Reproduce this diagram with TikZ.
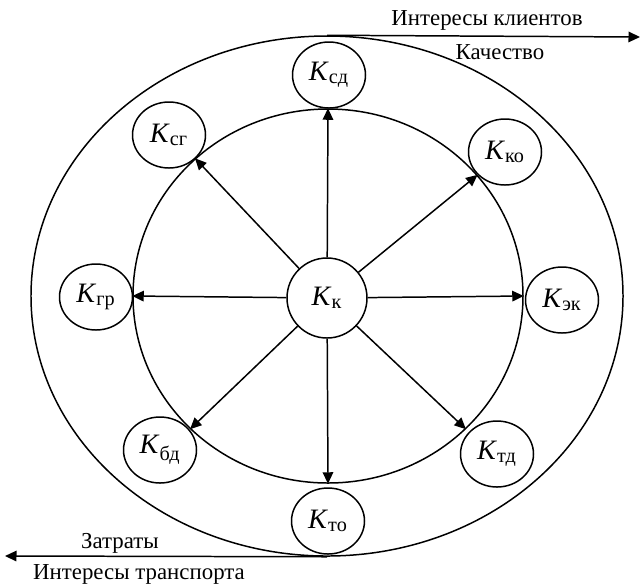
\documentclass[tikz,border=0pt]{standalone}
\usepackage{fontspec}
\setmainfont{Liberation Serif}
\usetikzlibrary{shapes.geometric,arrows.meta}
\newcommand{\Kind}[1]{{\fontsize{16}{18}\selectfont\textit{K}}\textsubscript{\fontsize{11.5}{13}\selectfont #1}}
\begin{document}
\begin{tikzpicture}[x=0.2mm,y=-0.2mm,line width=0.85pt,
  every node/.style={font=\fontsize{13}{15}\selectfont},
  >={Triangle[length=2.3mm,width=2.1mm]},
  ring/.style={draw,ellipse,inner sep=0pt},
  kbox/.style={draw,ellipse,inner sep=0pt,minimum width=14.6mm,minimum height=13.2mm}]
  \useasboundingbox (0,0) rectangle (643,586);
  % two rings
  \node[ring,minimum width=118.4mm,minimum height=104mm] (outer) at (327,296) {};
  \node[ring,minimum width=78mm,minimum height=74.8mm] (inner) at (328,296) {};
  % centre
  \node[draw,circle,inner sep=0pt,minimum size=16mm] (kk) at (327,298) {\Kind{к}};
  \foreach \a in {90,39,0,316,270,224,180,134}
    \draw[->] (kk) -- (inner.\a);
  % indicators on the inner ring
  \node[kbox] (ksd) at (329,75) {\Kind{сд}};
  \node[kbox] (kko) at (505,152) {\Kind{ко}};
  \node[kbox] (kek) at (562,300) {\Kind{эк}};
  \node[kbox] (ktd) at (497,454) {\Kind{тд}};
  \node[kbox] (kto) at (328,521) {\Kind{то}};
  \node[kbox] (kbd) at (160,450) {\Kind{бд}};
  \node[kbox] (kgr) at (96,297) {\Kind{гр}};
  \node[kbox] (ksg) at (169,135) {\Kind{сг}};
  % axes
  \coordinate (qend) at (640,37);
  \coordinate (zend) at (5,556);
  \draw[->] (outer.north) -- (qend);
  \draw[->] (outer.south) -- (zend);
  \node (ik) at (487,20) {Интересы клиентов};
  \node (kach) at (500,52) {Качество};
  \node (zatr) at (120,543) {Затраты};
  \node (it) at (139,574) {Интересы транспорта};
\end{tikzpicture}
\end{document}
